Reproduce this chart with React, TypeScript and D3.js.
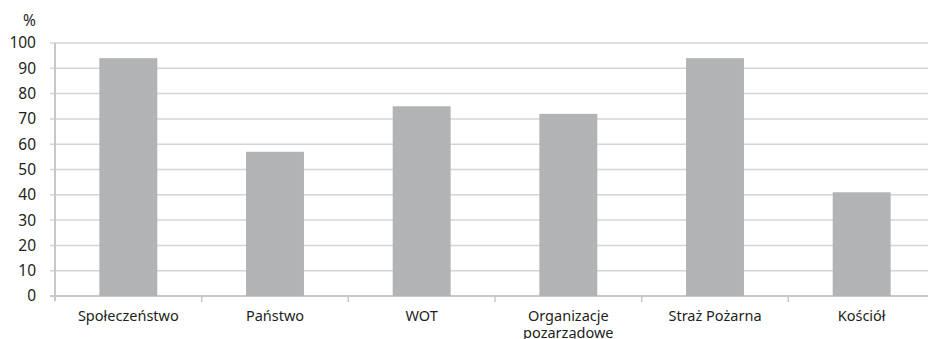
import React from 'react';
import * as d3 from 'd3';

const categories = ['Społeczeństwo', 'Państwo', 'WOT', 'Organizacje\npozarządowe', 'Straż Pożarna', 'Kościół'];
const values = [94, 57, 75, 72, 94, 41];
const yTicks = [0, 10, 20, 30, 40, 50, 60, 70, 80, 90, 100];

const W = 928;
const H = 339;
const margin = { top: 43, right: -7, bottom: 43, left: 55 };
const font = '"Noto Sans", sans-serif';

export default function App() {
  const x = d3
    .scaleBand<string>()
    .domain(categories)
    .range([margin.left, W - margin.right])
    .paddingInner(0.605)
    .paddingOuter(0.3025);
  const band = d3.scaleBand<string>().domain(categories).range([margin.left, W - margin.right]);
  const y = d3.scaleLinear().domain([0, 100]).range([H - margin.bottom, margin.top]);
  const y0 = y(0);

  return (
    <svg width={W} height={H} style={{ position: 'absolute', left: 0, top: 0, background: '#fff' }}>
      {yTicks.map((t) => (
        <g key={t}>
          <line x1={margin.left - 5} x2={W} y1={y(t)} y2={y(t)} stroke={t === 0 ? '#c8c8c8' : '#d4d4d4'} strokeWidth={t === 0 ? 2 : 1.5} />
          <text x={36} y={y(t)} dy="0.35em" textAnchor="end" fontFamily={font} fontSize={15.5} fill="#231f20">
            {t}
          </text>
        </g>
      ))}
      <text x={36} y={21} dy="0.35em" textAnchor="end" fontFamily={font} fontSize={15.5} fill="#231f20">
        %
      </text>
      <line x1={margin.left} x2={margin.left} y1={margin.top} y2={y0 + 5} stroke="#c8c8c8" strokeWidth={2} />
      {categories.map((c, i) => (
        <line key={'t' + i} x1={band(c)! + band.bandwidth()} x2={band(c)! + band.bandwidth()} y1={y0} y2={y0 + 6} stroke="#c8c8c8" strokeWidth={1.5} />
      ))}
      {categories.map((c, i) => (
        <rect key={c} x={x(c)} y={y(values[i])} width={x.bandwidth()} height={y0 - y(values[i])} fill="#b2b3b5" />
      ))}
      {categories.map((c) => (
        <text key={'l' + c} y={316} textAnchor="middle" fontFamily={font} fontSize={14.5} fill="#231f20">
          {c.split('\n').map((s, j) => (
            <tspan key={j} x={band(c)! + band.bandwidth() / 2} dy={j === 0 ? '0.35em' : '1.15em'}>
              {s}
            </tspan>
          ))}
        </text>
      ))}
    </svg>
  );
}
